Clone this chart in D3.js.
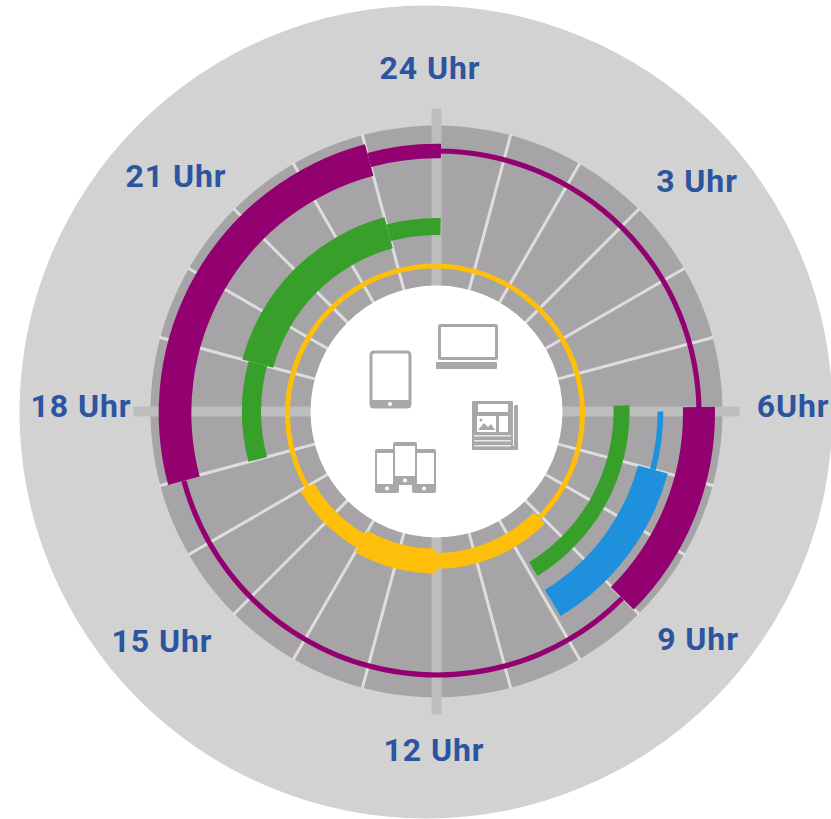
<!DOCTYPE html>
<html>
<head>
<meta charset="utf-8">
<script src="https://cdn.jsdelivr.net/npm/d3@7"></script>
<style>
	html, body { margin: 0; padding: 0; background: #fff; overflow: hidden; }
	svg { display: block; }
	text { font-family: Roboto, Inter, sans-serif; font-weight: 700; fill: #2c55a0; font-size: 32px; letter-spacing: 0.9px; }
</style>
</head>
<body>
<svg width="831" height="819"></svg>
<script>
// Hours of the day, clockwise from 24 Uhr
const hours = d3.range(24);

// Usage per hour, one value per hour slot (0 = no line drawn)
const printValues = [16, 16, 16, 16, 16, 16, 16, 16, 16, 50, 50, 50, 78, 78, 50, 50, 16, 16, 16, 16, 16, 16, 16, 16];
const desktopValues = [0, 0, 0, 0, 0, 0, 50, 50, 50, 50, 0, 0, 0, 0, 0, 0, 0, 60, 60, 100, 100, 100, 100, 53];
const mobileValues = [0, 0, 0, 0, 0, 0, 18, 96, 96, 96, 0, 0, 0, 0, 0, 0, 0, 0, 0, 0, 0, 0, 0, 0];
const tvValues = [16, 16, 16, 16, 16, 16, 100, 100, 100, 16, 16, 16, 16, 16, 16, 16, 16, 102, 102, 102, 102, 102, 102, 45];

const tickLabels = ["24 Uhr", "3 Uhr", "6Uhr", "9 Uhr", "12 Uhr", "15 Uhr", "18 Uhr", "21 Uhr"];

// Layout
const cx = 436.5;
const cy = 411.5;
const labelPos = [[430, 79], [697, 192], [793, 417], [698, 650], [434, 761], [162, 652], [81, 417], [176, 187]];

const svg = d3.select("svg");

const angle = d3.scaleBand().domain(hours).range([0, 2 * Math.PI]);
const thickness = d3.scaleLinear().domain([0, 100]).range([0, 32]);
const arc = d3.arc();

// Outer disc is not concentric with the ring
svg.append("circle")
	.attr("cx", 426)
	.attr("cy", 412)
	.attr("r", 406.5)
	.attr("fill", "#d2d2d2");

const chart = svg.append("g").attr("transform", `translate(${cx},${cy})`);

// Grey ring
chart.append("path")
	.attr("d", arc({ innerRadius: 125, outerRadius: 286, startAngle: 0, endAngle: 2 * Math.PI }))
	.attr("fill", "#a6a4a6");

// Hour spokes
chart.selectAll("line.spoke")
	.data(hours.filter((h) => h % 6 !== 0))
	.enter()
	.append("line")
	.attr("class", "spoke")
	.attr("x1", (h) => 125 * Math.sin(angle(h)))
	.attr("y1", (h) => -125 * Math.cos(angle(h)))
	.attr("x2", (h) => 287 * Math.sin(angle(h)))
	.attr("y2", (h) => -287 * Math.cos(angle(h)))
	.attr("stroke", "#dedede")
	.attr("stroke-width", 3);

// Main axes, they stick out of the ring
chart.selectAll("line.axis")
	.data([0, 6, 12, 18])
	.enter()
	.append("line")
	.attr("class", "axis")
	.attr("x1", (h) => 125 * Math.sin(angle(h)))
	.attr("y1", (h) => -125 * Math.cos(angle(h)))
	.attr("x2", (h) => 303 * Math.sin(angle(h)))
	.attr("y2", (h) => -303 * Math.cos(angle(h)))
	.attr("stroke", "#bdbdbd")
	.attr("stroke-width", 10);

// White centre
chart.append("circle").attr("r", 126).attr("fill", "#fff");

// The rings sit a bit off centre in the original
const series = [
	{ values: printValues, radius: 147.5, dx: -1.5, dy: 2, color: "#fdbf0a" },
	{ values: desktopValues, radius: 185, dx: 0, dy: 0, color: "#38a02a" },
	{ values: mobileValues, radius: 224, dx: 0, dy: 0, color: "#1e90dc" },
	{ values: tvValues, radius: 262, dx: 0.5, dy: 1.5, color: "#930070" },
];

// Join neighbouring slots of equal value so no seams show between them
function toRuns(values) {
	const runs = [];
	values.forEach((v, h) => {
		const last = runs[runs.length - 1];
		if (last && last.value === v) last.end = h;
		else runs.push({ value: v, start: h, end: h });
	});
	return runs.filter((r) => r.value > 0);
}

// Runs poke over the 6 Uhr and 24 Uhr axes and stop just short of an empty slot
function runArc(s, run) {
	const t = thickness(run.value);
	const next = s.values[(run.end + 1) % 24];
	let startPad = 0;
	let endPad = 0;
	if (run.start === 6 && run.value > 30) startPad = 6 / s.radius;
	if (next === 0) endPad = -5 / s.radius;
	if (run.end === 23 && run.value > 30) endPad = 4 / s.radius;
	return arc({
		innerRadius: s.radius - t / 2,
		outerRadius: s.radius + t / 2,
		startAngle: angle(run.start) - startPad,
		endAngle: angle(run.end) + angle.bandwidth() + endPad,
	});
}

series.forEach((s) => {
	chart.append("g")
		.attr("transform", `translate(${s.dx},${s.dy})`)
		.selectAll("path")
		.data(toRuns(s.values))
		.enter()
		.append("path")
		.attr("d", (r) => runArc(s, r))
		.attr("fill", s.color);
});

// Hour labels
svg.selectAll("text")
	.data(tickLabels)
	.enter()
	.append("text")
	.attr("x", (d, i) => labelPos[i][0])
	.attr("y", (d, i) => labelPos[i][1])
	.attr("text-anchor", "middle")
	.text((d) => d);

// Icons in the centre
const iconColor = "#a8a8a8";
const icons = svg.append("g");

function outline(g, x, y, w, h, r, sw) {
	g.append("rect")
		.attr("x", x).attr("y", y).attr("width", w).attr("height", h).attr("rx", r)
		.attr("fill", "none").attr("stroke", iconColor).attr("stroke-width", sw);
}
function solid(g, x, y, w, h, r, fill) {
	g.append("rect")
		.attr("x", x).attr("y", y).attr("width", w).attr("height", h).attr("rx", r)
		.attr("fill", fill || iconColor);
}
function phone(g, x, y, w, h) {
	g.append("rect").attr("x", x).attr("y", y).attr("width", w).attr("height", h).attr("rx", 3).attr("fill", "#fff");
	outline(g, x + 1, y + 1, w - 2, h - 2, 2.5, 2);
	solid(g, x, y + h - 9, w, 9, 2);
	solid(g, x, y, w, 4, 2);
	g.append("circle").attr("cx", x + w / 2).attr("cy", y + h - 4.5).attr("r", 2).attr("fill", "#fff");
}

// tablet
outline(icons, 371, 352, 39, 55, 3, 3);
solid(icons, 370, 400, 41, 8, 2);
icons.append("circle").attr("cx", 390).attr("cy", 404).attr("r", 2).attr("fill", "#fff");

// laptop
outline(icons, 439.5, 325.5, 57, 33, 1, 3);
solid(icons, 436, 362, 61, 7, 1);

// newspaper
solid(icons, 472, 401, 41, 49, 1);
solid(icons, 514, 405, 4, 45, 1);
solid(icons, 511, 446, 7, 4, 1);
solid(icons, 478, 404, 30, 8, 0, "#fff");
solid(icons, 477, 416, 19, 16, 0, "#fff");
solid(icons, 499, 416, 9, 16, 0, "#fff");
[435, 440, 445].forEach((y) => solid(icons, 474, y, 37, 1.5, 0, "#e8e8e8"));
icons.append("path")
	.attr("d", "M478 430 L484 423 L488 427 L491 424 L495 430 Z")
	.attr("fill", iconColor);
icons.append("circle").attr("cx", 481).attr("cy", 420).attr("r", 1.5).attr("fill", iconColor);

// phones, the middle one on top
phone(icons, 375, 449, 24, 44);
phone(icons, 412, 449, 24, 44);
phone(icons, 393, 442, 24, 43);
</script>
</body>
</html>
